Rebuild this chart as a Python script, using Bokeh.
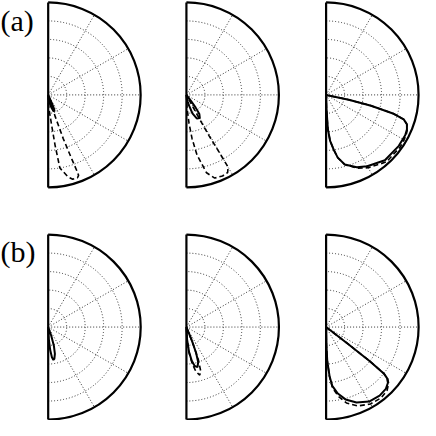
import numpy as np
from bokeh.plotting import figure
from bokeh.models import Label
from bokeh.embed import file_html
from bokeh.resources import INLINE

# ---- data (angles in degrees, radius normalised to outer circle = 1) ----
grid_radii = [0.2, 0.4, 0.6, 0.8]
spoke_angles = [-60, -30, 0, 30, 60]
row_labels = ["(a)", "(b)"]

a1_solid_theta = [-90, -82, -76, -72, -69, -67, -66, -65.5]
a1_solid_r = [0, 0.07, 0.14, 0.18, 0.19, 0.16, 0.10, 0]
a1_dash_theta = [-90, -87.7, -83.4, -82.2, -80.9, -76.5, -73.8, -70.5, -69.3, -69.3, -69.8, -71, -72, -72.5]
a1_dash_r = [0, 0.13, 0.34, 0.55, 0.80, 0.91, 0.95, 0.95, 0.93, 0.88, 0.74, 0.50, 0.25, 0]

a2_solid_theta = [-90, -80, -76, -72, -66, -60, -56, -54, -52.5, -51.5]
a2_solid_r = [0, 0.07, 0.12, 0.21, 0.28, 0.29, 0.25, 0.17, 0.08, 0]
a2_dash_theta = [-90, -87, -84.7, -82.6, -80, -75.5, -71.2, -66, -62, -60, -60.3, -61, -61.5, -62.5]
a2_dash_r = [0, 0.15, 0.31, 0.48, 0.66, 0.87, 0.95, 0.96, 0.95, 0.90, 0.70, 0.50, 0.30, 0]

a3_theta = [-90, -88.5, -87, -85, -82, -79.5, -75, -67, -60, -48, -35, -27, -23, -20, -17.5, -15.5, -13.5, -12, -11]
a3_solid_r = [0, 0.15, 0.37, 0.50, 0.60, 0.69, 0.78, 0.85, 0.89, 0.95, 0.96, 0.96, 0.95, 0.93, 0.88, 0.75, 0.50, 0.25, 0]
a3_dash_r = [0, 0.15, 0.37, 0.50, 0.60, 0.69, 0.78, 0.86, 0.91, 0.975, 0.98, 0.97, 0.955, 0.93, 0.88, 0.75, 0.50, 0.25, 0]

b1_solid_theta = [-90, -87, -85, -83, -81, -79, -76, -73, -70.5, -68.5]
b1_solid_r = [0, 0.13, 0.25, 0.33, 0.36, 0.35, 0.30, 0.21, 0.10, 0]

b2_solid_theta = [-90, -87, -84, -81, -78, -74.5, -71.5, -69.5, -68, -67]
b2_solid_r = [0, 0.13, 0.27, 0.37, 0.43, 0.45, 0.40, 0.30, 0.15, 0]
b2_dash_theta = [-90, -87, -84, -81, -78, -74.5, -72, -70, -68.5, -67]
b2_dash_r = [0, 0.13, 0.28, 0.40, 0.49, 0.54, 0.50, 0.38, 0.20, 0]

b3_theta = [-90, -89, -88, -86, -84, -80, -75, -68, -60, -52, -46, -42, -40, -38.8, -38, -37.6, -37.4]
b3_solid_r = [0, 0.20, 0.37, 0.53, 0.64, 0.73, 0.81, 0.88, 0.93, 0.94, 0.93, 0.90, 0.86, 0.80, 0.60, 0.30, 0]
b3_dash_r = [0, 0.20, 0.37, 0.54, 0.66, 0.76, 0.85, 0.92, 0.96, 0.97, 0.95, 0.91, 0.87, 0.80, 0.60, 0.30, 0]

panels = [
    [[(a1_solid_theta, a1_solid_r, "solid"), (a1_dash_theta, a1_dash_r, "dashed")],
     [(a2_solid_theta, a2_solid_r, "solid"), (a2_dash_theta, a2_dash_r, "dashed")],
     [(a3_theta, a3_dash_r, "dashed"), (a3_theta, a3_solid_r, "solid")]],
    [[(b1_solid_theta, b1_solid_r, "solid")],
     [(b2_dash_theta, b2_dash_r, "dashed"), (b2_solid_theta, b2_solid_r, "solid")],
     [(b3_theta, b3_dash_r, "dashed"), (b3_theta, b3_solid_r, "solid")]],
]

# ---- layout ----
PX = 96.0
span = 436 / PX
col_cx = [49.5 / PX, 193 / PX, 338 / PX]
row_cy = [(436 - 98) / PX, (436 - 339) / PX]
label_y = [(436 - 21) / PX, (436 - 261) / PX]

p = figure(width=420, height=420, x_range=(0, span), y_range=(0, span),
           output_backend="svg", toolbar_location=None, min_border=0)
p.axis.visible = False
p.grid.visible = False
p.outline_line_color = None
p.background_fill_color = "white"

dot_color = "#333333"
for ri, cy in enumerate(row_cy):
    for ci, cx in enumerate(col_cx):
        n = len(grid_radii)
        p.arc(x=[cx] * n, y=[cy] * n, radius=grid_radii, start_angle=-np.pi / 2,
              end_angle=np.pi / 2, line_color=dot_color, line_width=1, line_dash="1 2")
        ang = np.radians(spoke_angles)
        p.segment(x0=[cx] * len(ang), y0=[cy] * len(ang), x1=cx + np.cos(ang), y1=cy + np.sin(ang),
                  line_color=dot_color, line_width=1, line_dash="1 2")
        p.arc(x=[cx], y=[cy], radius=[1.0], start_angle=-np.pi / 2, end_angle=np.pi / 2,
              line_color="black", line_width=2.2)
        p.segment(x0=[cx], y0=[cy - 1], x1=[cx], y1=[cy + 1], line_color="black", line_width=2.2)
        for th, r, style in panels[ri][ci]:
            t = np.radians(th)
            rr = np.array(r)
            xs = cx + rr * np.cos(t)
            ys = cy + rr * np.sin(t)
            if style == "solid":
                p.line(xs, ys, line_color="black", line_width=2)
            else:
                p.line(xs, ys, line_color="black", line_width=1.6, line_dash="5 3")
    p.add_layout(Label(x=0, y=label_y[ri], text=row_labels[ri], text_font="Liberation Serif",
                       text_font_size="30px", text_baseline="middle", text_color="black"))

open("out.html", "w").write(file_html(p, INLINE))
